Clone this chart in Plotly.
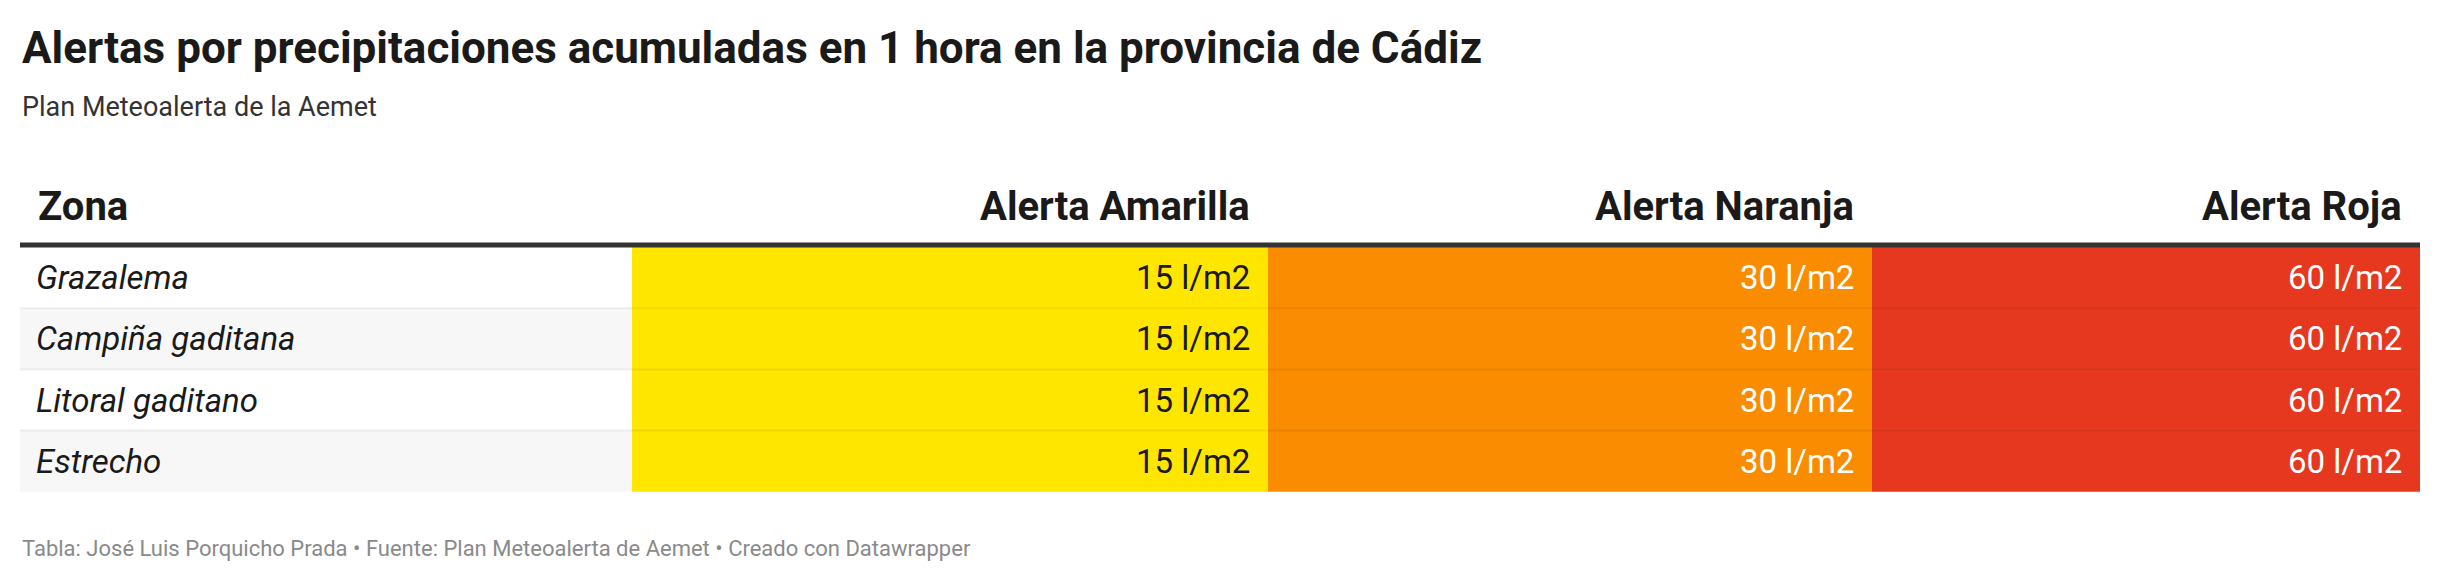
import plotly.graph_objects as go

# data
zonas = ["Grazalema", "Campiña gaditana", "Litoral gaditano", "Estrecho"]
columnas = ["Alerta Amarilla", "Alerta Naranja", "Alerta Roja"]
amarilla = [15, 15, 15, 15]
naranja = [30, 30, 30, 30]
roja = [60, 60, 60, 60]
unidad = "l/m2"

valores = [amarilla, naranja, roja]
fondos = ["#ffe600", "#f98c00", "#e6381f"]
texto_color = ["#1a1a1a", "#ffffff", "#ffffff"]

# layout in pixels
W, H = 2440, 578
col_edges = [12, 624, 1260, 1864, 2412]
row_top, row_h = 239, 61.2
font = "Roboto"

fig = go.Figure()
fig.add_trace(go.Scatter(x=[0], y=[0], mode="markers", marker=dict(opacity=0), hoverinfo="skip"))

shapes = []
annotations = []

# zone column backgrounds (alternating)
for i, z in enumerate(zonas):
    y0 = row_top + i * row_h
    shapes.append(dict(type="rect", xref="x", yref="y", x0=col_edges[0], x1=col_edges[1],
                       y0=y0, y1=y0 + row_h, fillcolor="#f7f7f7" if i % 2 else "#ffffff",
                       line_width=0, layer="below"))
    annotations.append(dict(x=col_edges[0] + 14, y=y0 + row_h / 2, text=f"<i>{z}</i>",
                            xanchor="left", yanchor="middle", showarrow=False,
                            font=dict(family=font, size=33, color="#1a1a1a")))

# colored value columns
for c, (vals, bg, tc) in enumerate(zip(valores, fondos, texto_color)):
    x0, x1 = col_edges[c + 1], col_edges[c + 2]
    shapes.append(dict(type="rect", xref="x", yref="y", x0=x0, x1=x1,
                       y0=row_top, y1=row_top + row_h * len(zonas),
                       fillcolor=bg, line_width=0, layer="below"))
    for i, v in enumerate(vals):
        y0 = row_top + i * row_h
        annotations.append(dict(x=x1 - 16, y=y0 + row_h / 2, text=f"{v} {unidad}",
                                xanchor="right", yanchor="middle", showarrow=False,
                                font=dict(family=font, size=33, color=tc)))
    annotations.append(dict(x=x1 - 16, y=198, text=f"<b>{columnas[c]}</b>",
                            xanchor="right", yanchor="middle", showarrow=False,
                            font=dict(family=font, size=40, color="#1a1a1a")))

# row separators
for i in range(1, len(zonas)):
    y = row_top + i * row_h
    shapes.append(dict(type="line", xref="x", yref="y", x0=col_edges[0], x1=col_edges[-1],
                       y0=y, y1=y, line=dict(color="rgba(0,0,0,0.06)", width=2)))

# header line
shapes.append(dict(type="line", xref="x", yref="y", x0=col_edges[0], x1=col_edges[-1],
                   y0=237, y1=237, line=dict(color="#333333", width=5)))

annotations.append(dict(x=col_edges[0] + 16, y=198, text="<b>Zona</b>", xanchor="left", yanchor="middle",
                        showarrow=False, font=dict(family=font, size=40, color="#1a1a1a")))

# titles
annotations += [
    dict(x=12, y=40, text="<b>Alertas por precipitaciones acumuladas en 1 hora en la provincia de Cádiz</b>",
         xanchor="left", yanchor="middle", showarrow=False, font=dict(family=font, size=44, color="#1a1a1a")),
    dict(x=12, y=99, text="Plan Meteoalerta de la Aemet", xanchor="left", yanchor="middle",
         showarrow=False, font=dict(family=font, size=27, color="#333333")),
    dict(x=12, y=540, text="Tabla: José Luis Porquicho Prada • Fuente: Plan Meteoalerta de Aemet • Creado con Datawrapper",
         xanchor="left", yanchor="middle", showarrow=False, font=dict(family=font, size=22, color="#8a8a8a")),
]

fig.update_layout(
    width=W, height=H, margin=dict(l=0, r=0, t=0, b=0),
    paper_bgcolor="white", plot_bgcolor="white", showlegend=False,
    xaxis=dict(range=[0, W], visible=False, fixedrange=True),
    yaxis=dict(range=[H, 0], visible=False, fixedrange=True),
    shapes=shapes, annotations=annotations,
)
fig.write_html("out.html")
